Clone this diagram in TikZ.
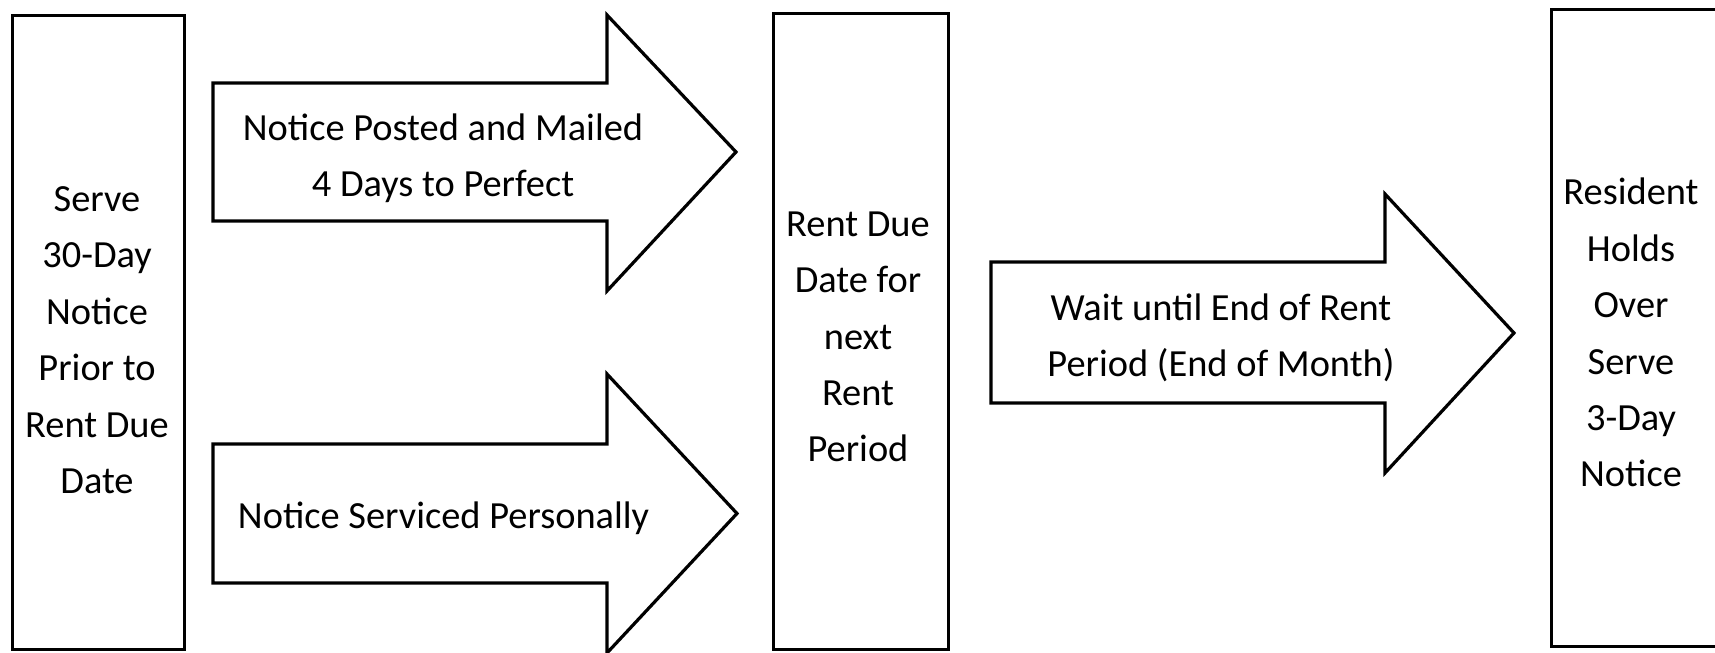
\documentclass[tikz,border=0pt]{standalone}
\usepackage{fontspec}
\setmainfont{Carlito}
\begin{document}
\begin{tikzpicture}[x=0.5pt,y=0.5pt,
  outline/.style={draw=black,line width=1.6pt,line join=miter,fill=white},
  colbox/.style={outline,rectangle,inner sep=0pt,anchor=south west},
  label/.style={align=center,anchor=base,inner sep=0pt,text=black,
    font=\fontsize{19.2}{28.2}\selectfont}]
\fill[white] (0,0) rectangle (1715,653);
\clip (0,0) rectangle (1715,653);
% boxes
\node[colbox,minimum width=86pt,minimum height=317pt] (b1) at (11,2) {};
\node[colbox,minimum width=87.5pt,minimum height=318pt] (b2) at (772,2) {};
\node[colbox,minimum width=87.5pt,minimum height=318.5pt] (b3) at (1550,5) {};
% block arrows
\draw[outline] (213,570) -- (607,570) -- (607,638) -- (736,501) -- (607,362) -- (607,432) -- (213,432) -- cycle;
\draw[outline] (213,209) -- (607,209) -- (607,279) -- (737,139.5) -- (607,0) -- (607,70) -- (213,70) -- cycle;
\draw[outline] (991,391) -- (1385,391) -- (1385,459) -- (1514,320) -- (1385,180) -- (1385,250) -- (991,250) -- cycle;
% texts (anchor = baseline of the last line)
\node[label] (t1) at (97,159.5) {Serve\\30-Day\\Notice\\Prior to\\Rent Due\\Date};
\node[label] (t2) at (443,456.4) {Notice Posted and Mailed\\4 Days to Perfect};
\node[label] (t3) at (443.5,124) {Notice Serviced Personally};
\node[label] (t4) at (858,191) {Rent Due\\Date for\\next\\Rent\\Period};
\node[label] (t5) at (1221,276) {Wait until End of Rent\\Period (End of Month)};
\node[label] (t6) at (1631,166) {Resident\\Holds\\Over\\Serve\\3-Day\\Notice};
\end{tikzpicture}
\end{document}
